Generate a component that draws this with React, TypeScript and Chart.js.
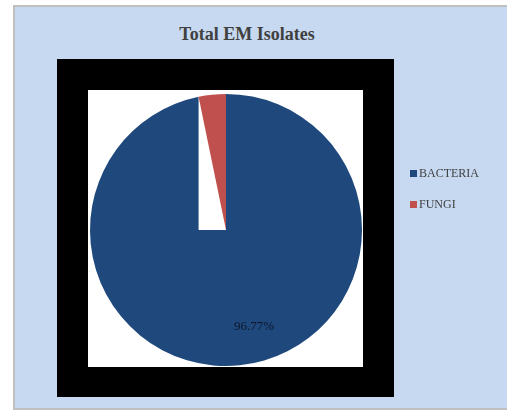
import React, { useEffect, useRef } from "react";
import { Chart, registerables } from "chart.js";

Chart.register(...registerables);

const title = "Total EM Isolates";
const categories = ["BACTERIA", "FUNGI"];
const values = [96.77, 3.23];
const colors = ["#1f497d", "#c0504d"];
const shownLabels = ["96.77%", ""];

const FONT = '"Liberation Serif", "Times New Roman", serif';

const gapPlugin = {
  id: "gapPlugin",
  afterDatasetsDraw(chart: any) {
    const meta = chart.getDatasetMeta(0);
    const ctx = chart.ctx;
    const small = meta.data[1];
    if (small) {
      const { x, y, startAngle, outerRadius } = small.getProps(["x", "y", "startAngle", "outerRadius"], true);
      const left = x + outerRadius * Math.cos(startAngle);
      ctx.save();
      ctx.fillStyle = "#ffffff";
      ctx.fillRect(left, y - outerRadius, x - left, outerRadius);
      ctx.restore();
      small.draw(ctx);
    }
    // data labels
    meta.data.forEach((arc: any, i: number) => {
      const txt = shownLabels[i];
      if (!txt) return;
      const { x, y, startAngle, endAngle, outerRadius } = arc.getProps(["x", "y", "startAngle", "endAngle", "outerRadius"], true);
      const mid = (startAngle + endAngle) / 2 - 0.18;
      const lx = x + Math.cos(mid) * outerRadius * 0.74;
      const ly = y + Math.sin(mid) * outerRadius * 0.74;
      ctx.save();
      ctx.font = `13px ${FONT}`;
      ctx.fillStyle = "#0c1628";
      ctx.textAlign = "center";
      ctx.textBaseline = "middle";
      ctx.fillText(txt, lx, ly);
      ctx.restore();
    });
  },
};

export default function App() {
  const ref = useRef<HTMLCanvasElement>(null);
  useEffect(() => {
    if (!ref.current) return;
    const chart = new Chart(ref.current, {
      type: "pie",
      data: {
        labels: categories,
        datasets: [
          {
            data: values,
            backgroundColor: colors,
            borderWidth: 0,
          },
        ],
      },
      options: {
        animation: false,
        responsive: false,
        events: [],
        layout: { padding: { left: 90, top: 94, right: 145, bottom: 45 } },
        plugins: {
          legend: { display: false },
          tooltip: { enabled: false },
          title: { display: false },
        },
      },
      plugins: [gapPlugin],
    });
    return () => chart.destroy();
  }, []);

  return (
    <div style={{ position: "fixed", left: 0, top: 0, width: 507, height: 411, overflow: "hidden", background: "#ffffff" }}>
      <div
        style={{
          position: "absolute",
          left: 13,
          top: 5,
          width: 520,
          height: 401,
          background: "#c6d9f0",
          borderTop: "2px solid #c0c0c0",
          borderLeft: "2px solid #c0c0c0",
          borderBottom: "2px solid #c0c0c0",
        }}
      />
      <div style={{ position: "absolute", left: 57, top: 59, width: 337, height: 338, background: "#000000" }} />
      <div style={{ position: "absolute", left: 88, top: 90, width: 275, height: 277, background: "#ffffff" }} />
      <div
        style={{
          position: "absolute",
          left: 97,
          top: 24,
          width: 300,
          textAlign: "center",
          fontFamily: FONT,
          fontWeight: "bold",
          fontSize: 18,
          lineHeight: "20px",
          color: "#404040",
        }}
      >
        {title}
      </div>
      <canvas ref={ref} width={507} height={411} style={{ position: "absolute", left: 0, top: 0 }} />
      {categories.map((c, i) => (
        <div
          key={c}
          style={{
            position: "absolute",
            left: 410,
            top: 166 + i * 31,
            height: 14,
            display: "flex",
            alignItems: "center",
            fontFamily: FONT,
            fontSize: 12,
            color: "#404040",
          }}
        >
          <span style={{ display: "inline-block", width: 7, height: 7, background: colors[i], marginRight: 2 }} />
          <span>{c}</span>
        </div>
      ))}
    </div>
  );
}
